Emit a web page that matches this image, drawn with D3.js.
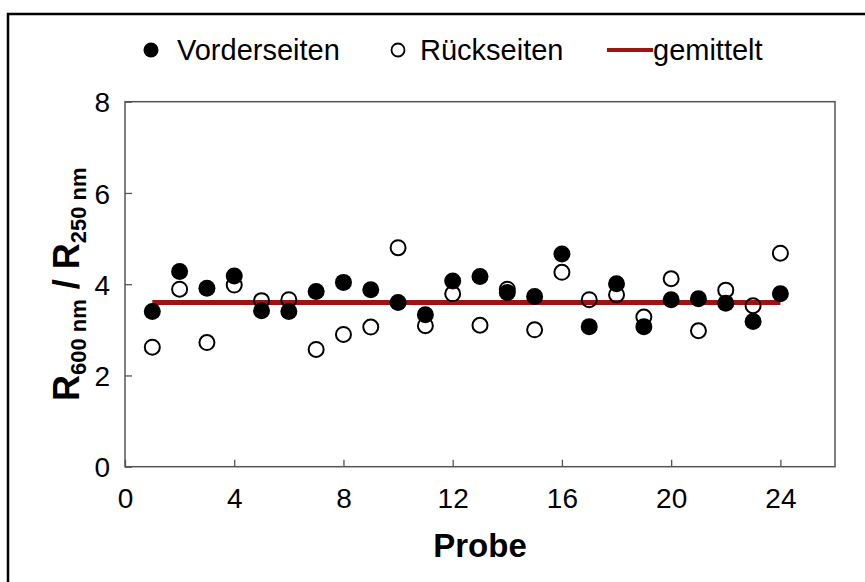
<!DOCTYPE html>
<html><head><meta charset="utf-8">
<script src="https://cdn.jsdelivr.net/npm/d3@7"></script>
<style>body{margin:0;background:#fff}svg{display:block;font-family:"Liberation Sans",Arial,sans-serif}</style>
</head><body>
<svg id="c" width="865" height="582"></svg>
<script>
const probes = [1,2,3,4,5,6,7,8,9,10,11,12,13,14,15,16,17,18,19,20,21,22,23,24];
const vorderseiten = [3.40,4.28,3.91,4.18,3.42,3.40,3.84,4.04,3.88,3.60,3.33,4.07,4.17,3.82,3.73,4.66,3.07,4.01,3.07,3.66,3.68,3.58,3.18,3.79];
const rueckseiten  = [2.62,3.89,2.72,3.98,3.64,3.66,2.57,2.90,3.06,4.80,3.09,3.79,3.10,3.89,3.00,4.26,3.66,3.77,3.28,4.12,2.98,3.87,3.53,4.68];
const gemittelt = [{x:1,y:3.60},{x:24,y:3.60}];
const xTicks = [0,4,8,12,16,20,24];
const yTicks = [0,2,4,6,8];
const legendLabels = ["Vorderseiten","Rückseiten","gemittelt"];

const svg = d3.select("#c");
const L=125,R=835,T=101.7,B=466.7;
const x = d3.scaleLinear().domain([0,26]).range([L,R]);
const y = d3.scaleLinear().domain([0,8]).range([B,T]);

// outer frame
svg.append("rect").attr("x",8).attr("y",14).attr("width",900).attr("height",600)
  .attr("fill","none").attr("stroke","#000").attr("stroke-width",2.5);

// plot box
svg.append("rect").attr("x",L).attr("y",T).attr("width",R-L).attr("height",B-T)
  .attr("fill","none").attr("stroke","#555").attr("stroke-width",1.5);

const xa = svg.append("g").attr("transform",`translate(0,${B})`)
  .call(d3.axisBottom(x).tickValues(xTicks).tickSizeInner(-7).tickSizeOuter(0).tickPadding(21));
const ya = svg.append("g").attr("transform",`translate(${L},0)`)
  .call(d3.axisLeft(y).tickValues(yTicks).tickSizeInner(-7).tickSizeOuter(0).tickPadding(15));
[xa,ya].forEach(a=>{
  a.select(".domain").remove();
  a.selectAll(".tick line").attr("stroke","#555").attr("stroke-width",1.3);
  a.selectAll(".tick text").attr("font-size",28).attr("fill","#000").attr("font-family","'Liberation Sans',Arial,sans-serif");
});
ya.selectAll(".tick text").attr("dy","0.36em");

// mean line
svg.append("path").datum(gemittelt)
  .attr("d",d3.line().x(d=>x(d.x)).y(d=>y(d.y)))
  .attr("stroke","#a01212").attr("stroke-width",5).attr("fill","none");

// filled
svg.append("g").selectAll("circle").data(probes).join("circle")
  .attr("cx",d=>x(d)).attr("cy",(d,i)=>y(vorderseiten[i])).attr("r",8.5).attr("fill","#000");
// open
svg.append("g").selectAll("circle").data(probes).join("circle")
  .attr("cx",d=>x(d)).attr("cy",(d,i)=>y(rueckseiten[i])).attr("r",7.5)
  .attr("fill","none").attr("stroke","#000").attr("stroke-width",2);

// legend
const ly=50;
svg.append("circle").attr("cx",151).attr("cy",ly).attr("r",7.5).attr("fill","#000");
svg.append("text").attr("x",177).attr("y",ly+10).attr("font-size",29).text(legendLabels[0]);
svg.append("circle").attr("cx",398).attr("cy",ly).attr("r",6.5).attr("fill","none").attr("stroke","#000").attr("stroke-width",1.8);
svg.append("text").attr("x",420).attr("y",ly+10).attr("font-size",29).text(legendLabels[1]);
svg.append("line").attr("x1",607).attr("x2",653).attr("y1",ly).attr("y2",ly).attr("stroke","#a01212").attr("stroke-width",4);
svg.append("text").attr("x",653).attr("y",ly+10).attr("font-size",29).text(legendLabels[2]);

// axis titles
svg.append("text").attr("x",(L+R)/2).attr("y",557).attr("text-anchor","middle")
  .attr("font-size",33).attr("font-weight","bold").text("Probe");
const yt = svg.append("text").attr("transform",`translate(79,${(T+B)/2}) rotate(-90)`)
  .attr("text-anchor","middle").attr("font-size",36).attr("font-weight","bold");
yt.append("tspan").text("R");
yt.append("tspan").attr("font-size",22).attr("dy",7).text("600 nm");
yt.append("tspan").attr("dy",-7).text(" / R");
yt.append("tspan").attr("font-size",22).attr("dy",7).text("250 nm");
</script>
</body></html>
